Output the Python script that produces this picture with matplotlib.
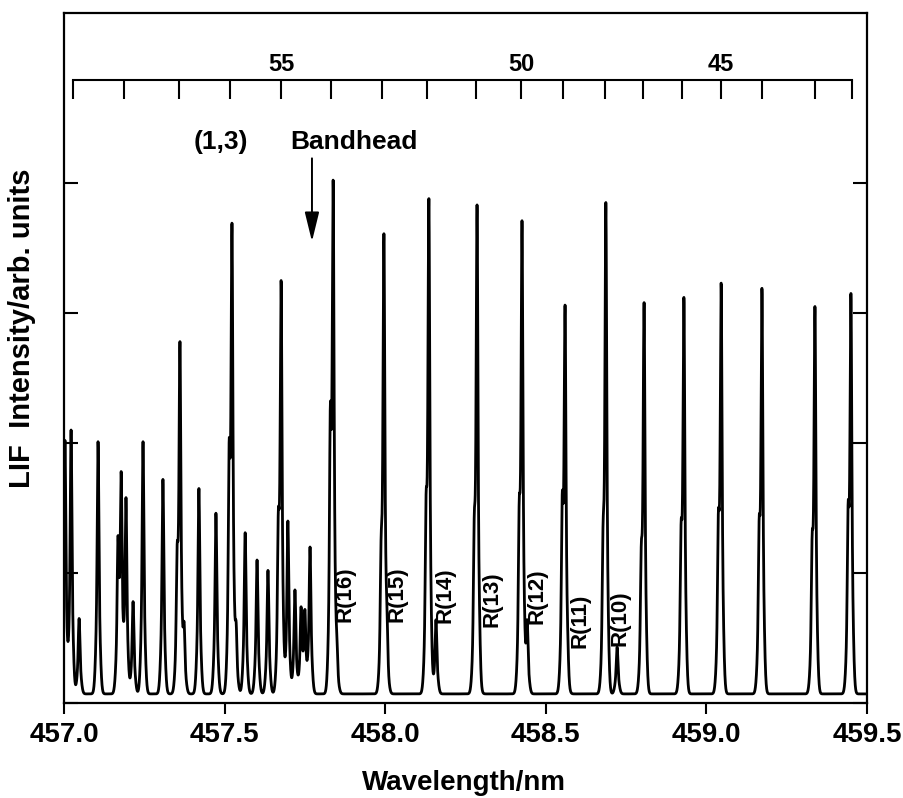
import numpy as np
import matplotlib
matplotlib.use('Agg')
import matplotlib.pyplot as plt

plt.rcParams['font.family'] = ['Liberation Sans', 'DejaVu Sans']

# line positions (nm) and peak heights (arb. units)
line_wl = [457.003, 457.022, 457.047, 457.106, 457.168, 457.178, 457.193, 457.215,
           457.246, 457.308, 457.361, 457.374, 457.420, 457.473, 457.523, 457.536,
           457.564, 457.601, 457.635, 457.676, 457.697, 457.719, 457.738, 457.750,
           457.766, 457.838, 457.850, 457.996, 458.006, 458.136, 458.158, 458.286,
           458.295, 458.426, 458.442, 458.560, 458.569, 458.687, 458.722, 458.806,
           458.930, 459.046, 459.173, 459.338, 459.450]
line_h = [2.02, 2.10, 0.65, 2.01, 1.28, 1.78, 1.58, 0.78,
          2.01, 1.72, 2.78, 0.62, 1.65, 1.46, 3.69, 0.62,
          1.31, 1.10, 1.02, 3.25, 1.40, 0.87, 0.74, 0.72,
          1.20, 4.02, 0.49, 3.61, 0.69, 3.88, 0.64, 3.83,
          0.54, 3.71, 0.64, 3.06, 0.48, 3.85, 0.43, 3.08,
          3.12, 3.23, 3.19, 3.05, 3.15]

# weaker companions just left of the strong lines
shoulder_wl = [457.352, 457.514, 457.667, 457.829, 457.987, 458.127, 458.277, 458.417,
               458.551, 458.678, 458.797, 458.921, 459.037, 459.164, 459.329, 459.441]
shoulder_h = [1.20, 2.00, 1.46, 2.28, 1.25, 1.58, 1.42, 1.54,
              1.60, 1.35, 1.20, 1.37, 1.45, 1.40, 1.28, 1.52]

baseline = 0.07

# top scale (rotational quantum number)
j_wl = [457.028, 457.187, 457.358, 457.517, 457.676, 457.831, 457.990, 458.130,
        458.283, 458.423, 458.554, 458.684, 458.803, 458.924, 459.045, 459.173,
        459.338, 459.453]
j_labels = {55: 457.676, 50: 458.423, 45: 459.045}

# R-branch labels
r_labels = ['R(16)', 'R(15)', 'R(14)', 'R(13)', 'R(12)', 'R(11)', 'R(10)']
r_wl = [457.875, 458.037, 458.186, 458.333, 458.473, 458.607, 458.731]
r_y = [0.84, 0.84, 0.83, 0.80, 0.82, 0.63, 0.65]

xticks = [457.0, 457.5, 458.0, 458.5, 459.0, 459.5]


def shape(d):
    return 0.55 * np.exp(-0.5 * (d / 0.0022) ** 2) + 0.45 * np.exp(-0.5 * (d / 0.0055) ** 2)


centers = np.array(line_wl + shoulder_wl)
tops = np.array(line_h + shoulder_h) - baseline
A = shape(centers[:, None] - centers[None, :])
amps = np.clip(np.linalg.solve(A, tops), 0.05, None)

wl = np.linspace(457.0, 459.5, 12501)
spec = baseline + (amps[None, :] * shape(wl[:, None] - centers[None, :])).sum(axis=1)

fig = plt.figure(figsize=(9.04, 7.98), dpi=100)
ax = fig.add_axes([64 / 904, 95 / 798, 803 / 904, 690 / 798])

ax.plot(wl, spec, color='black', lw=2.0)

ax.set_xlim(457.0, 459.5)
ax.set_ylim(0, 5.308)
ax.set_xticks(xticks)
ax.set_xticklabels(['%.1f' % t for t in xticks], fontweight='bold')
ax.set_yticks([0, 1, 2, 3, 4])
ax.tick_params(axis='x', direction='out', length=8, width=1.5, labelsize=20, pad=6)
ax.tick_params(axis='y', direction='in', length=10, width=1.5, left=True, right=True,
               labelleft=False)
for s in ax.spines.values():
    s.set_linewidth(1.6)

# J scale along the top
ax.plot([j_wl[0], j_wl[-1]], [4.79, 4.79], color='black', lw=1.5)
ax.vlines(j_wl, 4.646, 4.79, color='black', lw=1.5)
for lab, x in j_labels.items():
    ax.text(x, 4.91, str(lab), ha='center', va='center', fontsize=17, fontweight='bold')

# bandhead arrow
ax.text(457.405, 4.315, '(1,3)', ha='left', va='center', fontsize=19, fontweight='bold')
ax.text(457.703, 4.315, 'Bandhead', ha='left', va='center', fontsize=19,
        fontweight='bold')
ax.annotate('', xy=(457.772, 3.55), xytext=(457.772, 4.19),
            arrowprops=dict(arrowstyle='-|>,head_length=0.9,head_width=0.22',
                            color='black', lw=1.4, shrinkA=0, shrinkB=0,
                            mutation_scale=20))

for lab, x, y in zip(r_labels, r_wl, r_y):
    ax.text(x, y, lab, rotation=90, ha='center', va='center', fontsize=16,
            fontweight='bold')

fig.text(464 / 904, 1 - 783 / 798, 'Wavelength/nm', ha='center', va='center',
         fontsize=20, fontweight='bold')
fig.text(22 / 904, 1 - 328 / 798, 'LIF  Intensity/arb. units', rotation=90,
         ha='center', va='center', fontsize=21, fontweight='bold')

fig.savefig('out.png', dpi=100)
